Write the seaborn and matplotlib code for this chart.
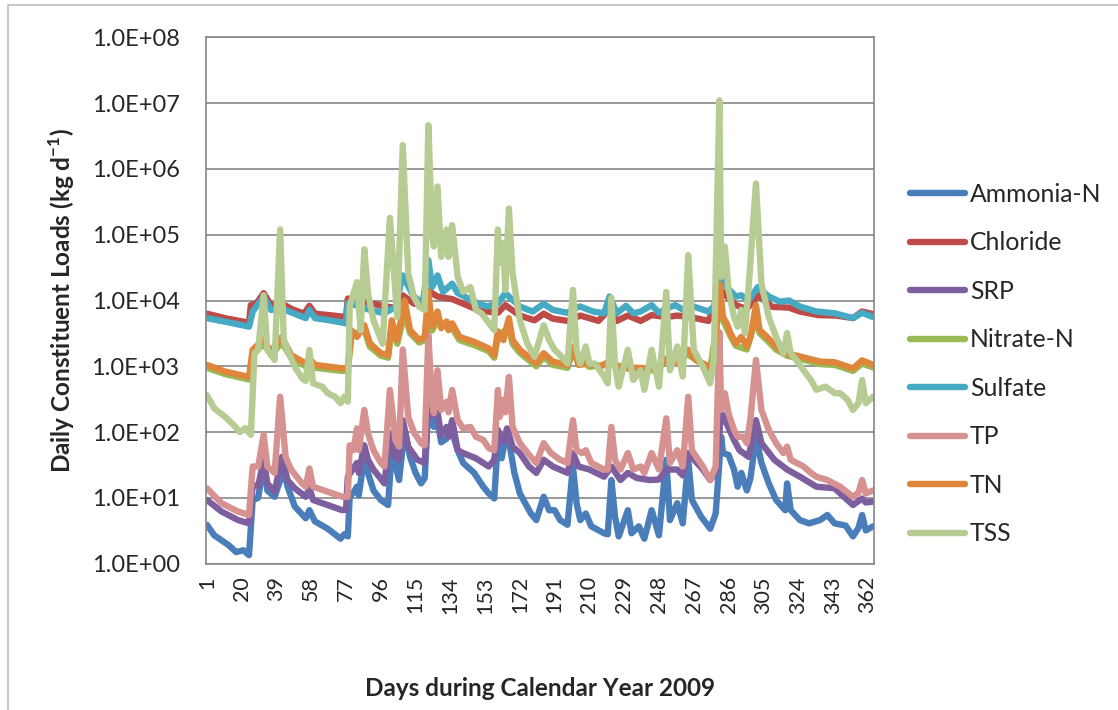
import numpy as np
import pandas as pd
import matplotlib
matplotlib.use("Agg")
import matplotlib.pyplot as plt
import seaborn as sns
from matplotlib.ticker import FixedLocator, FuncFormatter, NullLocator
from matplotlib.patches import Rectangle

# --- data (day of year, load in kg/d) ---
ammonia_days = [1, 5, 13, 17, 21, 24, 26, 29, 32, 34, 38, 43, 45, 49, 55, 57, 60, 67, 74, 76,
                78, 79, 81, 83, 84, 87, 89, 92, 96, 100, 102, 106, 109, 112, 115, 118, 120, 122, 124, 125,
                127, 129, 132, 135, 138, 141, 147, 152, 155, 158, 160, 162, 165, 169, 172, 178, 181, 185, 188, 191,
                194, 198, 201, 203, 205, 208, 211, 218, 220, 222, 224, 226, 231, 233, 237, 240, 244, 248, 252, 254,
                258, 261, 264, 266, 271, 276, 279, 282, 283, 286, 289, 291, 293, 296, 298, 301, 304, 308, 312, 317,
                318, 320, 325, 330, 336, 340, 344, 350, 354, 357, 359, 361, 365]
ammonia = [3.9, 2.7, 1.9, 1.5, 1.6, 1.35, 9.3, 10, 34, 13, 10.4, 27, 15, 7.4, 4.9, 6.5, 4.4, 3.4, 2.4, 2.8,
           2.6, 10.4, 12, 14.8, 11, 42, 24, 13, 9.3, 7.8, 53, 18.7, 108, 42, 24, 16.6, 20, 245, 170, 120,
           150, 70, 80, 100, 53, 34, 24, 14.8, 11.7, 9.8, 76, 40, 108, 24, 11.7, 5.8, 4.6, 10.4, 6.5, 6.5,
           4.6, 3.9, 30, 8.3, 4.6, 5.8, 3.7, 2.9, 2.8, 18.7, 5.2, 2.6, 6.5, 2.9, 3.7, 2.4, 6.5, 2.7, 38, 4.6,
           8.3, 4.1, 38, 9.3, 5.2, 3.4, 5.8, 85, 48, 45, 27, 14.8, 24, 13, 20, 85, 34, 16.6, 9.3, 6.5,
           16.6, 6.5, 4.6, 4.1, 4.6, 5.5, 4.1, 3.8, 2.6, 3.5, 5.5, 3.2, 3.7]

chloride_days = [1, 12, 24, 25, 28, 32, 36, 42, 47, 54, 57, 60, 70, 77, 78, 84, 90, 98, 104, 108,
                 114, 119, 122, 127, 135, 140, 150, 160, 164, 172, 180, 185, 190, 198, 205, 215, 221, 225, 231, 238,
                 244, 252, 258, 265, 275, 282, 290, 296, 302, 310, 319, 325, 335, 345, 354, 359, 365]
chloride = [6300, 5300, 4600, 8500, 9000, 12900, 8500, 9000, 7500, 6300, 8300, 6300, 5900, 5600, 10700, 10000, 9200, 8100, 7800, 12000,
            9000, 8500, 14000, 11500, 10500, 9200, 7000, 6500, 8500, 5900, 5000, 6300, 5300, 4900, 5900, 4900, 7500, 4900, 5900, 4900,
            6000, 5600, 5900, 5600, 4900, 14000, 8500, 7400, 12000, 8000, 7800, 6800, 6000, 5900, 5400, 6800, 6200]

srp_days = [1, 9, 18, 24, 26, 29, 32, 34, 38, 42, 45, 49, 55, 57, 59, 75, 77, 78, 83, 84,
            87, 89, 92, 98, 101, 104, 106, 108, 111, 116, 120, 122, 124, 127, 129, 132, 133, 135, 138, 141,
            148, 155, 158, 160, 163, 165, 168, 172, 177, 181, 185, 190, 198, 201, 204, 210, 218, 222, 227, 231,
            236, 243, 248, 252, 258, 261, 264, 272, 276, 279, 282, 285, 289, 292, 297, 301, 304, 311, 318, 325,
            334, 344, 354, 359, 361, 365]
srp = [9.3, 6.2, 4.6, 4.1, 15.7, 15, 38, 16.6, 12.4, 42, 18.7, 14, 10.4, 14, 9.3, 6.5, 6.6, 21, 34, 24,
       63, 38, 27, 16.6, 96, 42, 38, 152, 60, 38, 34, 310, 180, 200, 90, 120, 85, 152, 53, 48,
       40, 30, 38, 108, 70, 114, 60, 48, 30, 24, 38, 30, 24, 48, 30, 27, 21, 30, 18.7, 24,
       20, 18.7, 19, 27, 27, 22, 48, 27, 18.7, 25, 200, 135, 76, 53, 42, 152, 68, 38, 27, 21,
       14.8, 14, 7.8, 9.8, 8.5, 8.8]

nitrate_days = [1, 11, 24, 26, 32, 36, 42, 47, 55, 57, 60, 75, 78, 80, 87, 90, 96, 100, 102, 105,
                109, 112, 117, 120, 122, 124, 127, 132, 135, 139, 147, 155, 158, 160, 166, 168, 172, 181, 185, 190,
                198, 201, 210, 222, 235, 243, 252, 264, 276, 281, 283, 287, 290, 296, 301, 303, 307, 312, 318, 325,
                336, 344, 354, 359, 365]
nitrate = [950, 760, 630, 1500, 2200, 1500, 2300, 1350, 1000, 1150, 950, 850, 860, 3000, 3600, 2000, 1450, 1350, 4000, 2200,
           6500, 3200, 2300, 2500, 6000, 3500, 5000, 4000, 3800, 2500, 2100, 1700, 1350, 2800, 4000, 2200, 1600, 1000, 1400, 1050,
           950, 1700, 980, 1100, 860, 850, 1150, 1500, 900, 8000, 5000, 2900, 2050, 1800, 5500, 3200, 2500, 1800, 1450, 1300,
           1080, 1050, 850, 1100, 960]

sulfate_days = [1, 12, 24, 26, 32, 36, 42, 47, 55, 57, 60, 70, 77, 78, 84, 90, 98, 104, 108, 114,
                119, 122, 124, 127, 130, 135, 138, 147, 154, 160, 164, 172, 179, 185, 190, 198, 201, 205, 212, 218,
                221, 225, 230, 234, 238, 244, 248, 252, 257, 262, 267, 275, 278, 282, 285, 290, 293, 297, 302, 308,
                314, 319, 325, 334, 344, 354, 359, 365]
sulfate = [5400, 4700, 4000, 6800, 11500, 7200, 7500, 6600, 5400, 7200, 5400, 4900, 4500, 9100, 8200, 7200, 6400, 8000, 24000, 11500,
           9100, 41000, 16000, 24000, 13500, 18000, 13000, 9600, 8100, 9000, 12900, 8100, 6800, 8900, 7200, 6500, 7500, 8100, 6800, 6400,
           11500, 6400, 8300, 6400, 6800, 8500, 6500, 7600, 8500, 7000, 8100, 6800, 8100, 23000, 16000, 11500, 12000, 10000, 16000, 11500,
           9600, 10000, 8100, 6800, 6400, 5400, 6500, 5600]

tp_days = [1, 9, 18, 24, 26, 29, 32, 34, 38, 41, 44, 47, 53, 55, 57, 59, 67, 75, 78, 79,
           81, 83, 84, 87, 89, 92, 96, 98, 101, 104, 106, 108, 111, 114, 118, 120, 122, 124, 125, 127,
           129, 132, 133, 135, 138, 141, 145, 148, 152, 155, 158, 160, 161, 163, 164, 166, 168, 172, 178, 181,
           185, 189, 194, 198, 201, 203, 206, 208, 211, 218, 220, 222, 224, 227, 231, 234, 238, 240, 244, 248,
           252, 254, 258, 261, 264, 266, 272, 276, 279, 281, 282, 284, 286, 289, 291, 294, 296, 298, 301, 304,
           308, 312, 316, 318, 320, 327, 331, 334, 340, 347, 354, 357, 359, 361, 365]
tp = [14, 8.3, 6.2, 5.5, 30, 30, 91, 30, 24, 345, 42, 27, 16.6, 14.8, 28, 14.8, 12.4, 10.4, 10.4, 63,
      53, 114, 53, 217, 96, 53, 34, 30, 437, 76, 60, 1800, 170, 101, 68, 63, 3000, 290, 194, 870,
      217, 290, 200, 437, 152, 114, 120, 85, 76, 57, 53, 437, 170, 310, 200, 690, 120, 68, 42, 34,
      68, 48, 38, 34, 152, 53, 48, 53, 34, 27, 27, 120, 38, 27, 48, 27, 30, 24, 48, 27,
      162, 34, 53, 30, 345, 53, 30, 18.7, 30, 3300, 217, 390, 194, 108, 85, 85, 68, 162, 1250, 217,
      108, 68, 48, 60, 38, 30, 24, 21, 18.7, 14.8, 10.4, 12, 18.7, 11.7, 13]

tn_days = [1, 11, 24, 26, 32, 36, 42, 47, 55, 57, 60, 75, 78, 80, 83, 87, 90, 96, 100, 102,
           105, 109, 112, 117, 120, 122, 124, 127, 129, 132, 133, 135, 139, 147, 155, 158, 160, 163, 166, 168,
           172, 181, 185, 190, 198, 201, 204, 210, 216, 222, 226, 235, 243, 248, 252, 258, 264, 268, 276, 278,
           281, 283, 285, 287, 290, 293, 296, 298, 301, 303, 307, 312, 318, 325, 336, 344, 354, 359, 365]
tn = [1050, 830, 690, 1780, 2600, 1660, 2800, 1480, 1110, 1320, 1050, 930, 950, 3500, 2800, 4200, 2240, 1580, 1480, 5000,
      2500, 10000, 3550, 2500, 2800, 13500, 4000, 6800, 3800, 4800, 3550, 4500, 2800, 2350, 1870, 1480, 3400, 2500, 5400, 2500,
      1780, 1110, 1580, 1180, 1050, 2000, 1050, 1100, 980, 1250, 930, 950, 930, 950, 1320, 1100, 1780, 1250, 980, 1100,
      18000, 5600, 4500, 3200, 2240, 2800, 2000, 2800, 8500, 3550, 2800, 2000, 1580, 1410, 1180, 1150, 930, 1230, 1050]

tss_days = [1, 5, 11, 16, 19, 22, 25, 27, 29, 32, 34, 38, 41, 43, 45, 49, 53, 55, 57, 59,
            64, 67, 71, 74, 76, 78, 79, 83, 85, 87, 89, 92, 97, 101, 105, 108, 111, 114, 117, 120,
            122, 124, 125, 127, 129, 132, 133, 135, 138, 141, 145, 148, 151, 154, 158, 160, 161, 163, 164, 166,
            168, 172, 176, 180, 185, 188, 191, 194, 198, 201, 203, 205, 208, 210, 213, 218, 220, 222, 224, 226,
            231, 234, 238, 240, 244, 248, 252, 254, 258, 261, 264, 267, 272, 276, 278, 281, 282, 284, 286, 289,
            291, 293, 295, 297, 301, 304, 308, 312, 316, 318, 320, 323, 327, 331, 334, 339, 344, 347, 351, 354,
            357, 359, 361, 365]
tss = [365, 230, 170, 125, 100, 115, 91, 1580, 1780, 12000, 1780, 1250, 120000, 2500, 1780, 980, 660, 600, 1780, 550,
       490, 390, 345, 275, 345, 290, 8100, 19000, 3500, 60000, 13000, 5000, 2200, 180000, 5600, 2300000, 26000, 11500, 8000, 7200,
       4600000, 105000, 66000, 540000, 46000, 120000, 46000, 140000, 23000, 13500, 16000, 7200, 6400, 5000, 3550, 120000, 37000, 74000, 14500, 250000,
       26000, 5000, 2240, 1400, 4200, 2500, 1780, 1480, 1100, 14500, 1780, 1100, 2000, 1100, 1100, 700, 550, 11000, 1000, 490,
       1780, 620, 870, 440, 1780, 490, 13500, 870, 2000, 700, 49000, 1780, 980, 550, 1250, 11000000, 23000, 66000, 14500, 5600,
       4000, 7200, 3200, 16000, 600000, 18000, 5600, 2800, 1580, 3200, 1580, 1250, 870, 620, 440, 490, 390, 390, 310, 217,
       275, 620, 275, 345]

constituents = ["Ammonia-N", "Chloride", "SRP", "Nitrate-N", "Sulfate", "TP", "TN", "TSS"]
series = {
    "Ammonia-N": (ammonia_days, ammonia),
    "Chloride": (chloride_days, chloride),
    "SRP": (srp_days, srp),
    "Nitrate-N": (nitrate_days, nitrate),
    "Sulfate": (sulfate_days, sulfate),
    "TP": (tp_days, tp),
    "TN": (tn_days, tn),
    "TSS": (tss_days, tss),
}
colors = ["#4A7EBB", "#BE4B48", "#7D5FA0", "#98B954", "#46AAC5", "#D69290", "#E0863A", "#B6CC93"]

label_days = list(range(1, 366, 19))
decades = [10.0 ** k for k in range(0, 9)]

frames = [pd.DataFrame({"day": d, "load": v, "constituent": name}) for name, (d, v) in series.items()]
df = pd.concat(frames, ignore_index=True)

# --- figure ---
sns.set_style("white")
plt.rcParams["font.family"] = ["Lato", "DejaVu Sans"]
plt.rcParams["mathtext.fontset"] = "custom"
plt.rcParams["mathtext.rm"] = "Lato"
plt.rcParams["mathtext.bf"] = "Lato:bold"

fig = plt.figure(figsize=(11.18, 7.10), dpi=100)
ax = fig.add_axes([206 / 1118, 1 - 563.7 / 710, 668 / 1118, (563.7 - 37.3) / 710])

sns.lineplot(data=df, x="day", y="load", hue="constituent", hue_order=constituents,
             palette=colors, estimator=None, sort=False, legend=False, ax=ax)
for ln in ax.get_lines():
    ln.set_linewidth(4.6)
    ln.set_solid_joinstyle("round")
    ln.set_solid_capstyle("round")

ax.set_yscale("log")
ax.set_ylim(1, 1e8)
ax.set_xlim(0.5, 365.5)

grid_c = "#868686"
ax.yaxis.set_major_locator(FixedLocator(decades))
ax.yaxis.set_minor_locator(NullLocator())
ax.yaxis.set_major_formatter(FuncFormatter(lambda v, p: f"{v:.1E}"))
ax.grid(axis="y", color=grid_c, linewidth=1.2)
ax.grid(axis="x", visible=False)

ax.xaxis.set_major_locator(FixedLocator(label_days))
ax.xaxis.set_minor_locator(FixedLocator(np.arange(0.5, 366, 30)))
ax.tick_params(axis="x", which="major", length=0, pad=9, labelsize=15.5, rotation=90)
ax.tick_params(axis="x", which="minor", length=6, width=1.2, color=grid_c, direction="out")
ax.tick_params(axis="y", which="major", length=6, width=1.2, color=grid_c, direction="out",
               pad=13, labelsize=17)

for s in ["left", "bottom", "right", "top"]:
    ax.spines[s].set_color(grid_c)
    ax.spines[s].set_linewidth(1.2)
    ax.spines[s].set_visible(True)

ax.set_xlabel("Days during Calendar Year 2009", fontsize=17.5, fontweight="bold")
ax.xaxis.set_label_coords(0.5, -(677 - 563.7) / (563.7 - 37.3))
ax.set_ylabel("")
fig.text(62 / 1118, 1 - 300.5 / 710, r"Daily Constituent Loads (kg d$^{\mathbf{-1}}$)",
         rotation=90, ha="center", va="center", fontsize=17.5, fontweight="bold")

handles = ax.get_lines()[:len(constituents)]
leg = ax.legend(handles, constituents, loc="upper left", bbox_to_anchor=(910 / 1118, 1 - 183 / 710),
                bbox_transform=fig.transFigure, frameon=False, fontsize=17.8, handlelength=2.23,
                handletextpad=0.2, labelspacing=1.03, borderpad=0, borderaxespad=0)

# outer chart border
fig.patches.append(Rectangle((8 / 1118, -0.01), 1.2, 1 - 5 / 710 + 0.01, transform=fig.transFigure,
                             fill=False, edgecolor="#BFBFBF", linewidth=1.2))

fig.savefig("out.png", dpi=100)
